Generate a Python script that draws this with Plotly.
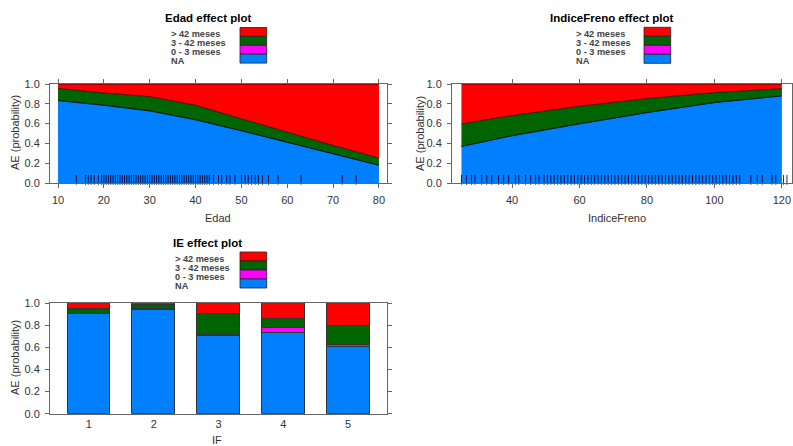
import plotly.graph_objects as go

# ---------------- data ----------------
categories = ["NA", "0 - 3 meses", "3 - 42 meses", "> 42 meses"]
cat_colors = ["#0080FF", "#FF00FF", "#006400", "#FF0000"]

# Edad effect (stacked probabilities)
edad_x = [10, 20, 30, 40, 50, 60, 70, 80]
edad_na = [0.832, 0.785, 0.728, 0.638, 0.527, 0.409, 0.295, 0.178]
edad_m03 = [0.002, 0.002, 0.002, 0.002, 0.002, 0.002, 0.002, 0.002]
edad_m342 = [0.122, 0.122, 0.142, 0.145, 0.119, 0.099, 0.082, 0.072]
edad_m42 = [0.044, 0.091, 0.128, 0.215, 0.352, 0.490, 0.621, 0.748]
edad_rug = [14, 16, 16.6, 17.2, 17.9, 18.8, 19.5, 20, 20.5, 21, 21.5, 22, 22.5,
            23, 23.5, 24, 24.5, 25, 25.5, 26, 26.5, 27, 27.5, 28, 28.5, 29, 29.5,
            30, 30.5, 31, 31.5, 32, 32.5, 33, 33.5, 34, 34.5, 35, 35.5, 36, 36.5,
            37, 37.5, 38, 38.5, 39, 39.5, 40, 40.5, 41, 41.5, 42, 42.5, 43, 43.9,
            45, 45.7, 46.8, 47.5, 48.6, 50, 50.8, 51.5, 52.2, 53, 53.7, 54.6,
            55.9, 58, 63, 72, 75]

# IndiceFreno effect
freno_x = [25, 40, 60, 80, 100, 120]
freno_na = [0.369, 0.477, 0.597, 0.711, 0.812, 0.879]
freno_m03 = [0.002, 0.002, 0.002, 0.002, 0.002, 0.002]
freno_m342 = [0.226, 0.202, 0.176, 0.139, 0.099, 0.072]
freno_m42 = [0.403, 0.319, 0.225, 0.148, 0.087, 0.047]
freno_rug = [25, 26.5, 28, 29, 31, 32.5, 34, 36, 37.5, 39, 41, 42, 44, 45.5, 47,
             48, 49.5, 50.5, 51.5, 52.5, 53.5, 54.5, 55.5, 56.5, 57.5, 58.5, 59.5,
             60.5, 61.5, 62.5, 63.5, 64.5, 65.5, 66.5, 67.5, 68.5, 69.5, 70.5,
             71.5, 72.5, 73.5, 74.5, 75.5, 76.5, 77.5, 78.5, 79.5, 80.5, 81.5,
             82.5, 83.5, 84.5, 85.5, 86.5, 87.5, 88.5, 89.5, 90.5, 91.5, 92.5,
             93.5, 94.5, 95.5, 96.5, 97.5, 98.5, 99.5, 100.5, 101.5, 102.5, 103.5,
             104.5, 105.5, 106.5, 107.5, 110.8, 112.7, 114.2, 117.1, 118.2,
             120.5, 121.5]

# IE effect (bars)
ie_levels = [1, 2, 3, 4, 5]
ie_na = [0.898, 0.940, 0.705, 0.726, 0.602]
ie_m03 = [0.004, 0.003, 0.004, 0.048, 0.018]
ie_m342 = [0.047, 0.036, 0.189, 0.081, 0.172]
ie_m42 = [0.051, 0.021, 0.102, 0.145, 0.208]

edad_ticks = [10, 20, 30, 40, 50, 60, 70, 80]
freno_ticks = [40, 60, 80, 100, 120]
y_ticks = [0.0, 0.2, 0.4, 0.6, 0.8, 1.0]
y_ticklabels = ["0.0", "0.2", "0.4", "0.6", "0.8", "1.0"]

titles = ["Edad effect plot", "IndiceFreno effect plot", "IE effect plot"]
xtitles = ["Edad", "IndiceFreno", "IF"]
ytitle = "AE (probability)"

# ---------------- layout helpers ----------------
# the page body margin is removed in post_script, figure fills the window
W, H = 793, 446
FONT = "Liberation Sans, Arial, sans-serif"


def px(x):
    return x / W


def py(y):
    return 1 - y / H


fig = go.Figure()

# stacked areas
for (xs, series, xa, ya) in [
    (edad_x, [edad_na, edad_m03, edad_m342, edad_m42], "x", "y"),
    (freno_x, [freno_na, freno_m03, freno_m342, freno_m42], "x2", "y2"),
]:
    for name, col, vals in zip(categories, cat_colors, series):
        fig.add_trace(go.Scatter(
            x=xs, y=vals, mode="lines", stackgroup="s" + xa,
            line=dict(color="black", width=0.7), fillcolor=col,
            name=name, showlegend=False, xaxis=xa, yaxis=ya,
            hoverinfo="skip"))

# rugs
for rug, xa, ya in [(edad_rug, "x", "y"), (freno_rug, "x2", "y2")]:
    fig.add_trace(go.Scatter(
        x=rug, y=[0.032] * len(rug), mode="markers",
        marker=dict(symbol="line-ns", size=7,
                    line=dict(color="rgba(0,0,40,0.85)", width=1)),
        showlegend=False, xaxis=xa, yaxis=ya, hoverinfo="skip", cliponaxis=False))

# bars
for name, col, vals in zip(categories, cat_colors, [ie_na, ie_m03, ie_m342, ie_m42]):
    fig.add_trace(go.Bar(
        x=ie_levels, y=vals, width=0.66, marker=dict(color=col,
                                                     line=dict(color="#333", width=1)),
        name=name, showlegend=False, xaxis="x3", yaxis="y3", hoverinfo="skip"))

axis_common = dict(showgrid=False, zeroline=False, showline=True, automargin=False,
                   linecolor="#666", linewidth=1, ticklen=4,
                   tickcolor="#666", tickfont=dict(family=FONT, size=11, color="#333"))

fig.update_layout(
    width=W, height=H, margin=dict(l=0, r=0, t=0, b=0, autoexpand=False),
    paper_bgcolor="white", plot_bgcolor="white", barmode="stack",
    bargap=0,
    xaxis=dict(domain=[px(50), px(387)], range=[8.25, 81.75], tickvals=edad_ticks,
               mirror="ticks", anchor="y", ticks="outside", ticklabelstandoff=3,
               **axis_common),
    yaxis=dict(domain=[py(183), py(84)], range=[0, 1], tickvals=y_ticks,
               ticktext=y_ticklabels, mirror="ticks", anchor="x", ticks="outside",
               ticklabelstandoff=3, **axis_common),
    xaxis2=dict(domain=[px(452), px(792)], range=[22.2, 123], tickvals=freno_ticks,
                mirror="ticks", anchor="y2", ticks="outside", ticklabelstandoff=3,
                **axis_common),
    yaxis2=dict(domain=[py(183), py(84)], range=[0, 1], tickvals=y_ticks,
                ticktext=y_ticklabels, mirror="ticks", anchor="x2", ticks="outside",
                ticklabelstandoff=3, **axis_common),
    xaxis3=dict(domain=[px(50), px(387)], range=[0.4, 5.6], tickvals=ie_levels,
                mirror=True, anchor="y3", ticks="", ticklabelstandoff=0,
                **axis_common),
    yaxis3=dict(domain=[py(413.7), py(303)], range=[0, 1], tickvals=y_ticks,
                ticktext=y_ticklabels, mirror="ticks", anchor="x3", ticks="outside",
                ticklabelstandoff=3, **axis_common),
)

ann = []
shapes = []

# titles
for t, (cx, cy) in zip(titles, [(208, 18.5), (611.5, 18.5), (207.5, 243.5)]):
    ann.append(dict(text="<b>%s</b>" % t, x=px(cx), y=py(cy), xref="paper",
                    yref="paper", xanchor="center", yanchor="middle",
                    showarrow=False, font=dict(family=FONT, size=11.5, color="black")))

# axis titles
for t, (cx, cy) in zip(xtitles, [(218, 218), (617, 218), (217, 440)]):
    ann.append(dict(text=t, x=px(cx), y=py(cy), xref="paper", yref="paper",
                    xanchor="center", yanchor="middle", showarrow=False,
                    font=dict(family=FONT, size=11, color="#333")))
for (cx, cy) in [(15, 133), (420, 133), (15, 358)]:
    ann.append(dict(text=ytitle, x=px(cx), y=py(cy), xref="paper", yref="paper",
                    xanchor="center", yanchor="middle", showarrow=False,
                    textangle=-90, font=dict(family=FONT, size=11, color="#333")))

# keys
legend_rows = list(reversed(list(zip(categories, cat_colors))))
for (tx, bx0, bx1, top, rh) in [(169, 240, 266.7, 27.5, 8.9),
                                (574, 644, 670.7, 27.3, 9.0),
                                (173, 240, 266.7, 252, 9.0)]:
    for i, (name, col) in enumerate(legend_rows):
        y0 = top + i * rh
        shapes.append(dict(type="rect", xref="paper", yref="paper",
                           x0=px(bx0), x1=px(bx1), y0=py(y0 + rh), y1=py(y0),
                           fillcolor=col, line=dict(color="#222", width=0.8)))
        ann.append(dict(text="<b>%s</b>" % name, x=px(tx), y=py(y0 + rh * 0.5 + 2),
                        xref="paper", yref="paper", xanchor="left",
                        yanchor="middle", showarrow=False,
                        font=dict(family=FONT, size=9.2, color="#444")))

fig.update_layout(annotations=ann, shapes=shapes, hovermode=False)
fig.write_html("out.html", config={"displayModeBar": False},
               post_script="document.body.style.margin='0';"
                           "document.documentElement.style.overflow='hidden';"
                           "document.body.style.overflow='hidden';")
